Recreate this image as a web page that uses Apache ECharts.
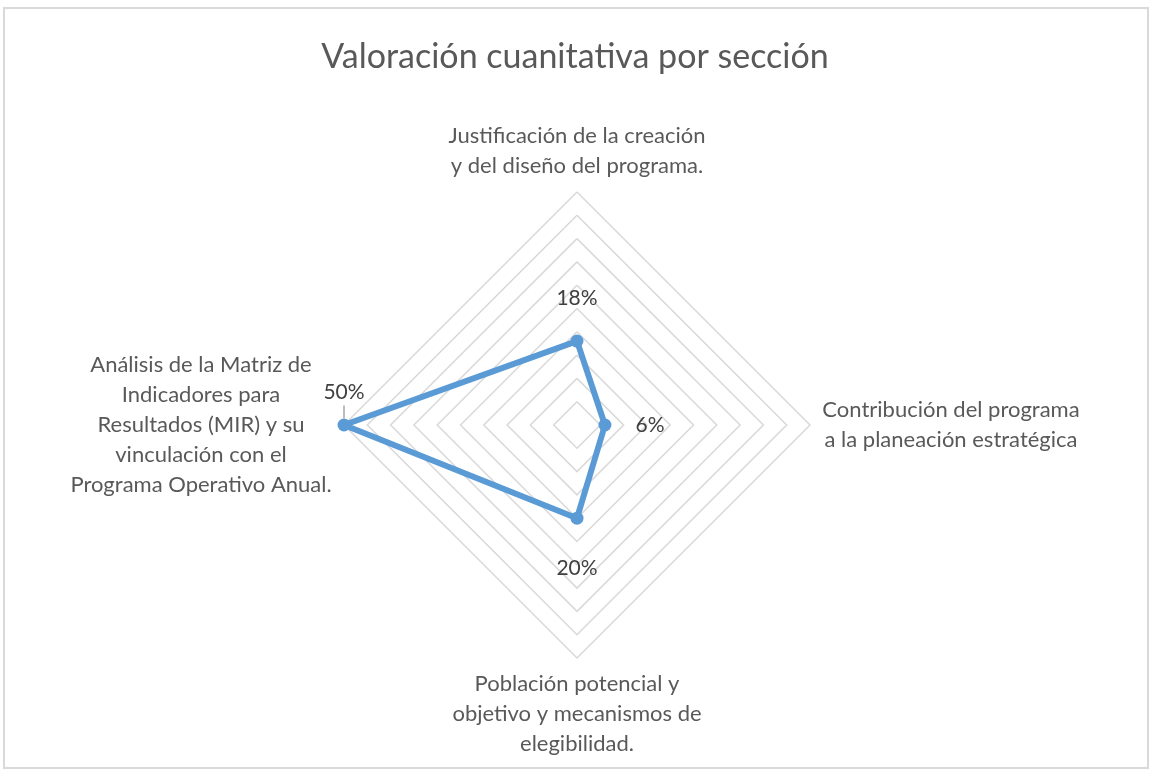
<!DOCTYPE html>
<html>
<head>
<meta charset="utf-8">
<script src="https://cdn.jsdelivr.net/npm/echarts@6/dist/echarts.min.js"></script>
<style>
  html, body { margin: 0; padding: 0; background: #fff; }
  #main { width: 1150px; height: 769px; }
</style>
</head>
<body>
<div id="main"></div>
<script>
// secciones en el orden de ECharts (arriba, izquierda, abajo, derecha)
var secciones = [
    ['Justificación de la creación', 'y del diseño del programa.'],
    ['Análisis de la Matriz de', 'Indicadores para', 'Resultados (MIR) y su', 'vinculación con el', 'Programa Operativo Anual.'],
    ['Población potencial y', 'objetivo y mecanismos de', 'elegibilidad.'],
    ['Contribución del programa', 'a la planeación estratégica']
];
var valores = [0.18, 0.50, 0.20, 0.06];
var maximo = 0.5;
var posEtiquetas = ['top', 'top', 'bottom', 'right'];

var myChart = echarts.init(document.getElementById('main'));

var fuente = 'Lato';
var tamNombre = 22;

function pct(v) {
    return Math.round(v * 100) + '%';
}

// ancho de la linea mas larga de cada nombre, para centrar las lineas
var ctx = document.createElement('canvas').getContext('2d');
ctx.font = tamNombre + 'px ' + fuente;
var richNombres = {};
secciones.forEach(function (s, k) {
    var w = 0;
    s.forEach(function (l) { w = Math.max(w, ctx.measureText(l).width); });
    richNombres['c' + k] = {
        width: Math.ceil(w) + 2, align: 'center', color: '#595959',
        fontFamily: fuente, fontSize: tamNombre, lineHeight: 30
    };
});

var series = [
    {
        name: 'Valoración',
        type: 'radar',
        symbol: 'circle',
        symbolSize: 13,
        lineStyle: { color: '#5b9bd5', width: 6 },
        itemStyle: { color: '#5b9bd5' },
        label: { show: false },
        data: [{ value: valores }],
        z: 3
    }
];

// una serie invisible por etiqueta, para poder colocar cada una
var distancias = [30, 6, 38, 30];
for (var i = 0; i < valores.length; i++) {
    var arr = [];
    for (var j = 0; j < valores.length; j++) {
        arr.push(j === i ? valores[j] : 0);
    }
    var conLinea = (i === 1);
    series.push({
        type: 'radar',
        symbol: 'circle',
        symbolSize: 1,
        silent: true,
        lineStyle: { opacity: 0, width: 0 },
        itemStyle: { opacity: 0 },
        label: {
            show: true,
            position: posEtiquetas[i],
            distance: distancias[i],
            color: '#404040',
            fontFamily: fuente,
            fontSize: 21,
            opacity: 1,
            formatter: (function (linea) {
                return function (p) {
                    if (!p.value) return '';
                    return linea ? '{v|' + pct(p.value) + '}\n{t| }' : pct(p.value);
                };
            })(conLinea),
            rich: {
                v: { color: '#404040', fontFamily: fuente, fontSize: 21, lineHeight: 26 },
                t: { backgroundColor: '#a6a6a6', width: 1.5, height: 13, fontSize: 1, lineHeight: 13 }
            },
            lineHeight: 24
        },
        data: [{ value: arr }],
        z: 4
    });
}

var option = {
    backgroundColor: '#ffffff',
    title: {
        text: 'Valoración cuanitativa por sección',
        left: 'center',
        top: 35,
        textStyle: {
            color: '#595959',
            fontFamily: fuente,
            fontWeight: 'normal',
            fontSize: 34
        }
    },
    graphic: [{
        type: 'rect',
        shape: { x: 4, y: 8, width: 1144, height: 760 },
        style: { fill: null, stroke: '#d9d9d9', lineWidth: 2 },
        silent: true
    }],
    radar: {
        center: [577, 425],
        radius: 233,
        startAngle: 90,
        splitNumber: 10,
        shape: 'polygon',
        indicator: secciones.map(function (s) {
            return { name: s.join('\n'), min: 0, max: maximo };
        }),
        axisName: {
            color: '#595959',
            fontFamily: fuente,
            fontSize: tamNombre,
            lineHeight: 30,
            formatter: function (name) {
                var k = -1;
                secciones.forEach(function (s, idx) { if (s.join('\n') === name) k = idx; });
                return name.split('\n').map(function (l) {
                    return '{c' + k + '|' + l + '}';
                }).join('\n');
            },
            rich: richNombres
        },
        nameGap: 11,
        axisLine: { show: false },
        axisTick: { show: false },
        axisLabel: { show: false },
        splitArea: { show: false },
        splitLine: { lineStyle: { color: '#d9d9d9', width: 1.5 } }
    },
    series: series
};

myChart.setOption(option);
</script>
</body>
</html>
